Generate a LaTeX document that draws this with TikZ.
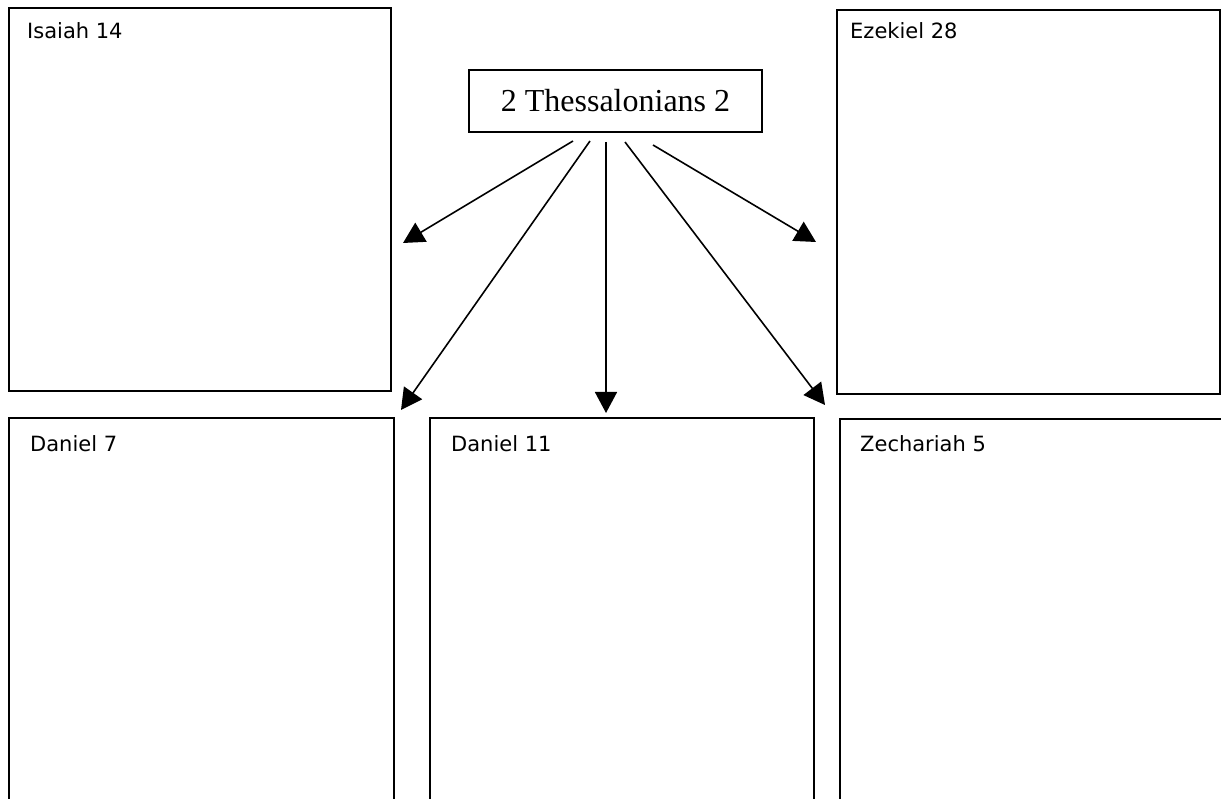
\documentclass[tikz,border=0pt]{standalone}
\usepackage{fontspec}
\setmainfont{Liberation Serif}
\newfontfamily\boxfont{DejaVu Sans}
\usetikzlibrary{arrows.meta,positioning}
\tikzset{chapter/.style={draw,line width=1.8pt,rectangle,anchor=north west,inner sep=0pt},
  chaptitle/.style={anchor=base west,inner sep=0pt,font=\boxfont\fontsize{21}{25}\selectfont},
  link/.style={-{Triangle[length=21pt,width=22pt]},line width=1.6pt}}

\begin{document}
\begin{tikzpicture}[x=1pt,y=-1pt]
\useasboundingbox (0,0) rectangle (1221,799);
\clip (0,0) rectangle (1221,799);
 \node[chapter,minimum width=382pt,minimum height=383pt] (isaiah) at (8,7) {};
 \node[chapter,minimum width=383pt,minimum height=384pt] (ezekiel) at (836,9) {};
 \node[chapter,minimum width=385pt,minimum height=420pt] (daniel7) at (8,417) {};
 \node[chapter,minimum width=384pt,minimum height=420pt] (daniel11) at (429,417) {};
 \node[chapter,minimum width=420pt,minimum height=420pt] (zechariah) at (839,418) {};
 \node[draw,line width=1.8pt,minimum width=293pt,minimum height=62pt,inner sep=0pt,font=\fontsize{32}{36}\selectfont] (thess) at (615.5,101) {2 Thessalonians 2};
% titles in the corners
 \node[chaptitle] (isaiahtitle) at ([shift={(19,32)}]isaiah.north west) {Isaiah 14};
 \node[chaptitle] (ezekieltitle) at ([shift={(14,30)}]ezekiel.north west) {Ezekiel 28};
 \node[chaptitle] (daniel7title) at ([shift={(22,34)}]daniel7.north west) {Daniel 7};
 \node[chaptitle] (daniel11title) at ([shift={(22,34)}]daniel11.north west) {Daniel 11};
 \node[chaptitle] (zechariahtitle) at ([shift={(21,33)}]zechariah.north west) {Zechariah 5};
% arrow ends
 \coordinate (s1) at (573,141); \coordinate (t1) at (403,243);
 \coordinate (s2) at (590,141); \coordinate (t2) at (401,410);
 \coordinate (s3) at (606,142); \coordinate (t3) at (606,413);
 \coordinate (s4) at (625,142); \coordinate (t4) at (825,405);
 \coordinate (s5) at (653,145); \coordinate (t5) at (816,242);
 \foreach \i in {1,...,5}
   \draw[link] (s\i) -- (t\i);
\end{tikzpicture}
\end{document}
